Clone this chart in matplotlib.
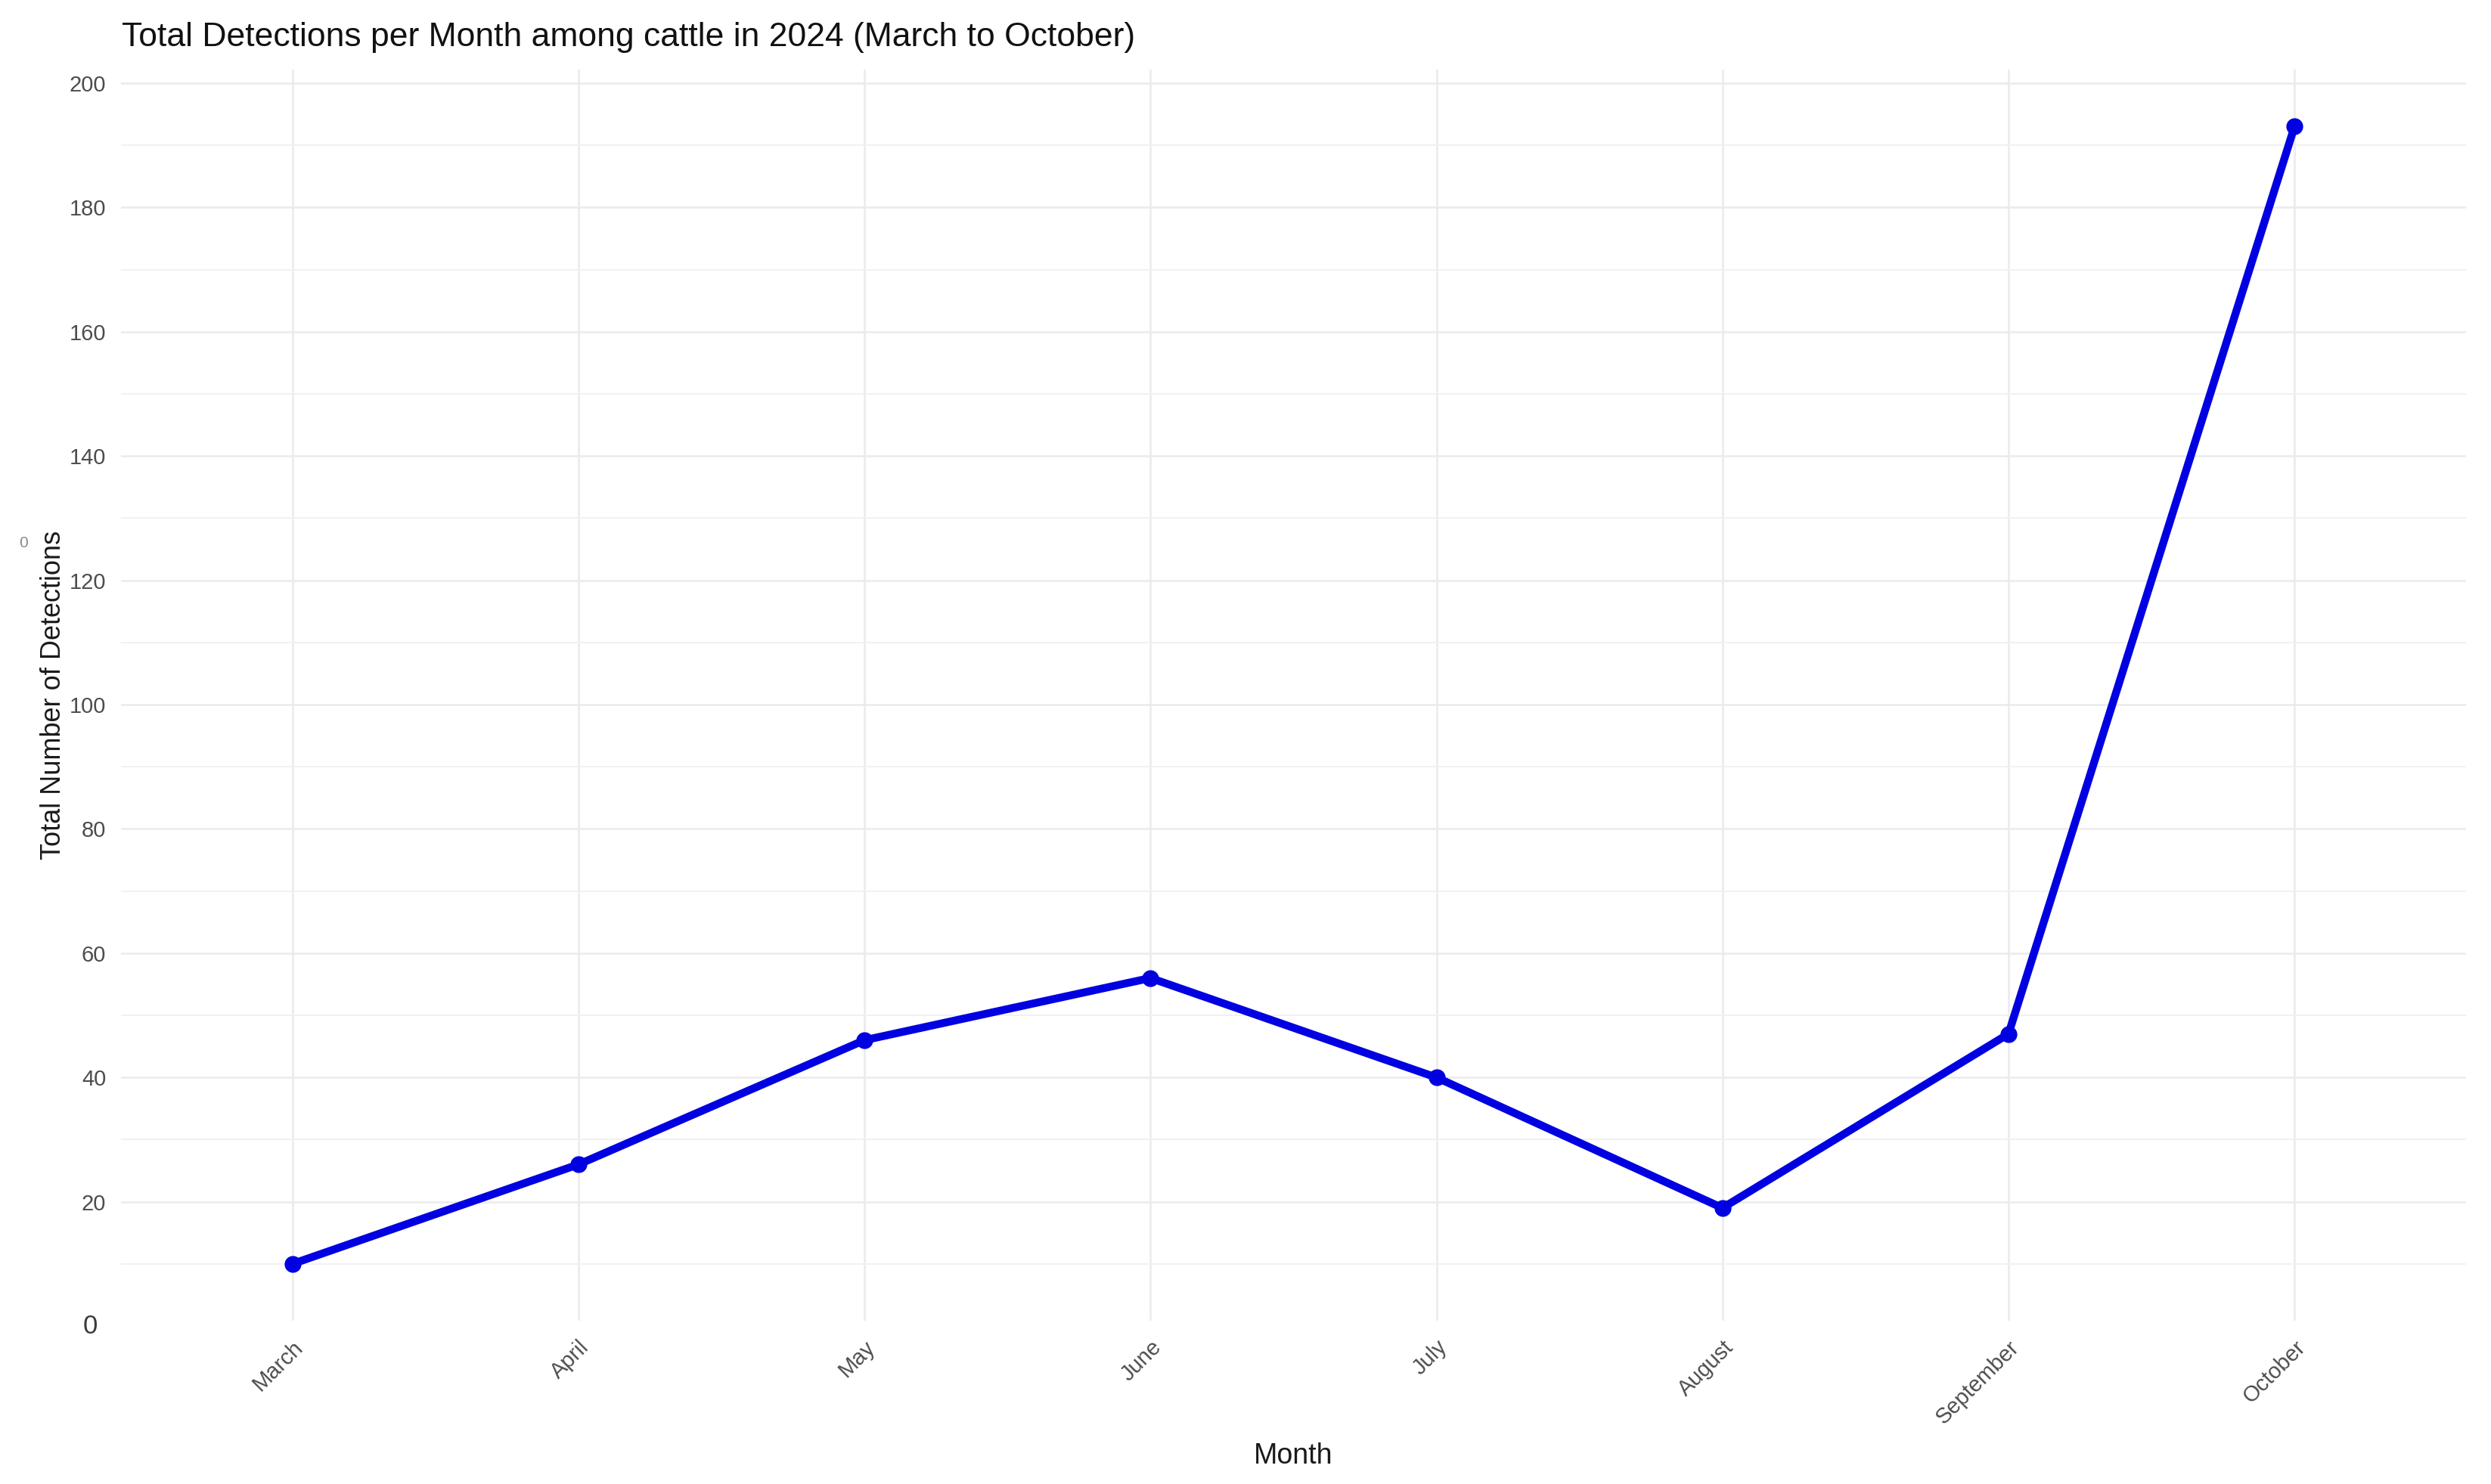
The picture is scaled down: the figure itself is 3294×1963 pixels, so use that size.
import matplotlib
matplotlib.use("Agg")
import matplotlib.pyplot as plt
from matplotlib.ticker import MultipleLocator

plt.rcParams["font.family"] = ["Liberation Sans", "DejaVu Sans"]

months = ["March", "April", "May", "June", "July", "August", "September", "October"]
detections = [10, 26, 46, 56, 40, 19, 47, 193]
y_ticks = [20, 40, 60, 80, 100, 120, 140, 160, 180, 200]

TITLE = "Total Detections per Month among cattle in 2024 (March to October)"
LINE_BLUE = "#0000E0"


def main() -> None:
    fig = plt.figure(figsize=(32.94, 19.63), dpi=100)
    ax = fig.add_axes([0.0485, 0.110, 0.9415, 0.843])

    ax.plot(months, detections, color=LINE_BLUE, linewidth=7.5,
            marker="o", markersize=15, solid_capstyle="round", zorder=3)

    ax.set_yticks(y_ticks)
    ax.yaxis.set_minor_locator(MultipleLocator(10))

    # ggplot-ish limits: 0.6 category padding, 5% on y
    ax.set_xlim(-0.6, len(months) - 1 + 0.6)
    span = max(detections) - min(detections)
    ax.set_ylim(min(detections) - 0.05 * span, max(detections) + 0.05 * span)

    ax.grid(True, which="major", color="#EBEBEB", linewidth=1.8)
    ax.grid(True, which="minor", axis="y", color="#F1F1F1", linewidth=1.4)
    ax.set_axisbelow(True)
    for s in ax.spines.values():
        s.set_visible(False)

    ax.tick_params(axis="both", which="both", length=0)
    ax.tick_params(axis="y", labelsize=21, labelcolor="#4D4D4D", pad=14)
    ax.tick_params(axis="x", labelsize=21, labelcolor="#4D4D4D", pad=15)
    for lbl in ax.get_xticklabels():
        lbl.set_rotation(45)
        lbl.set_ha("right")
        lbl.set_rotation_mode("anchor")

    # the lone "0" sits just under the panel, outside the y range
    ax.text(-0.0098, 0, "0", transform=ax.get_yaxis_transform(),
            fontsize=25, color="#3A3A3A", ha="right", va="center",
            clip_on=False)

    ax.set_xlabel("Month", fontsize=27, color="#1A1A1A", labelpad=14)
    ax.set_ylabel("Total Number of Detections", fontsize=26, color="#1A1A1A",
                  labelpad=3)

    fig.text(0.049, 0.975, TITLE, fontsize=32, color="#111111",
             ha="left", va="center")
    fig.text(0.0095, 0.634, "0", fontsize=15, color="#8A8A8A",
             ha="center", va="center")

    fig.savefig("out.png", dpi=100, facecolor="white")
    plt.close(fig)


if __name__ == "__main__":
    main()
